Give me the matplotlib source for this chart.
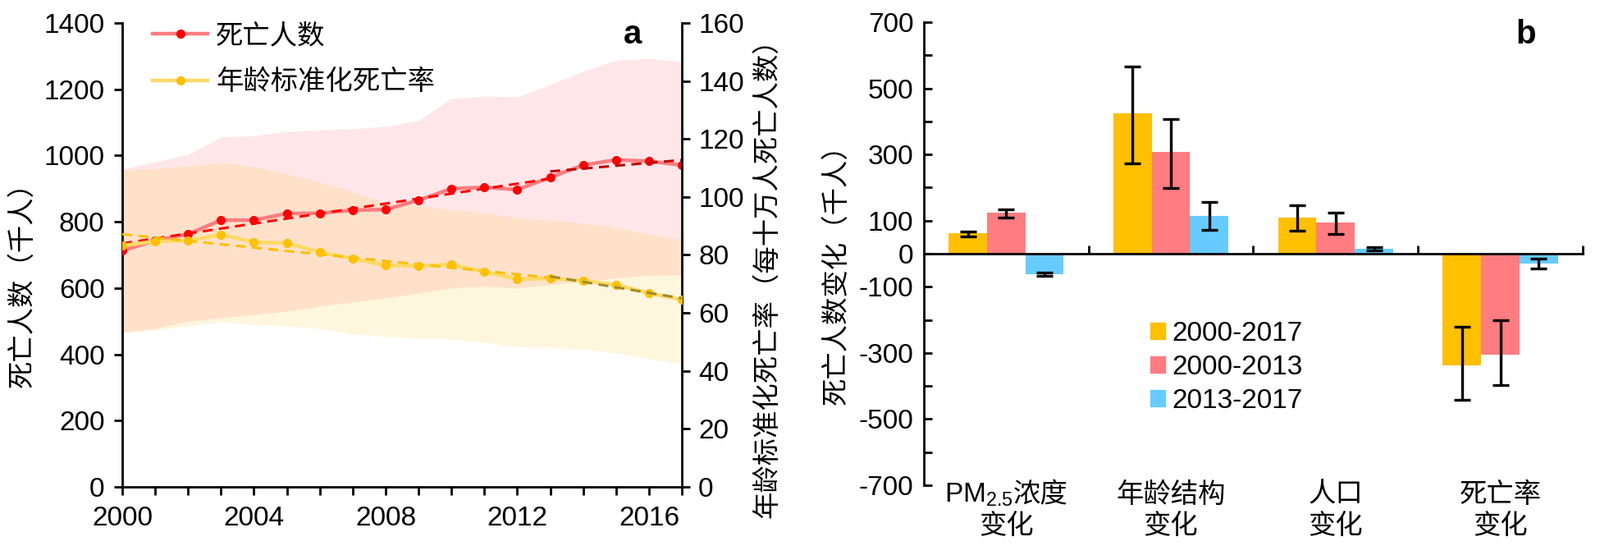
import numpy as np
import matplotlib
matplotlib.use('Agg')
import matplotlib.pyplot as plt
from matplotlib.patches import Patch
from matplotlib.ticker import FixedLocator, MultipleLocator

plt.rcParams['font.family'] = ['Liberation Sans', 'Noto Sans CJK SC']
plt.rcParams['mathtext.fontset'] = 'custom'
plt.rcParams['mathtext.rm'] = 'Liberation Sans'
plt.rcParams['mathtext.default'] = 'rm'
plt.rcParams['axes.unicode_minus'] = False

########## panel a data ##########
years = list(range(2000, 2018))
deaths = [713, 743, 763, 805, 805, 825, 826, 835, 837, 865, 900, 904, 897, 934, 971, 987, 983, 971]
deaths_hi = [959, 981, 1003, 1056, 1060, 1073, 1077, 1081, 1088, 1106, 1172, 1179, 1177, 1214, 1254, 1288, 1293, 1283]
deaths_lo = [466, 478, 500, 510, 520, 530, 545, 558, 570, 585, 600, 605, 600, 610, 620, 630, 638, 640]
asr = [83.2, 84.7, 84.9, 87.0, 84.4, 84.1, 81.0, 78.7, 76.4, 76.2, 76.7, 74.2, 71.6, 71.9, 71.1, 69.7, 66.8, 64.6]
asr_hi = [109.3, 109.8, 110.7, 111.9, 110.4, 108.0, 105.1, 101.9, 97.7, 97.0, 95.7, 94.5, 92.9, 92.0, 91.0, 89.5, 87.2, 85.3]
asr_lo = [53.3, 54.1, 55.5, 56.9, 56.0, 55.5, 54.6, 52.7, 51.8, 51.3, 51.0, 49.8, 48.3, 48.1, 47.5, 46.2, 44.2, 42.5]
split_year = 2013
legend_a = ['死亡人数', '年龄标准化死亡率']

########## panel b data ##########
categories = ['PM$_{2.5}$浓度\n变化', '年龄结构\n变化', '人口\n变化', '死亡率\n变化']
periods = ['2000-2017', '2000-2013', '2013-2017']
val_0017 = [61, 425, 109, -338]
val_0013 = [125, 309, 94, -306]
val_1317 = [-63, 115, 14, -30]
lo_0017 = [51, 272, 69, -441]
hi_0017 = [66, 566, 146, -222]
lo_0013 = [108, 199, 60, -396]
hi_0013 = [133, 408, 125, -202]
lo_1317 = [-68, 71, 9, -45]
hi_1317 = [-58, 157, 21, -16]

FS = 24


def trend(x, y):
    k, b = np.polyfit(x, y, 1)
    return np.polyval([k, b], x)


fig = plt.figure(figsize=(19.5, 6.65), dpi=100)

###### panel a ######
ax1 = fig.add_axes([0.0764, 0.1083, 0.3498, 0.8496])
ax2 = ax1.twinx()

ax1.fill_between(years, deaths_lo, deaths_hi, color='#FF8A94', alpha=0.2, lw=0, zorder=1)
# yellow band sits on the right axis scale but under the red line
ax1.fill_between(years, asr_lo, asr_hi, color='#FFC000', alpha=0.13, lw=0, zorder=1,
                 transform=ax2.transData)

l1, = ax1.plot(years, deaths, color='#FF7C80', lw=3.2, marker='o', ms=7,
               mfc='#FF0000', mec='#FF0000', zorder=3)
i = years.index(split_year)
ax1.plot(years[:i + 1], trend(years[:i + 1], deaths[:i + 1]), color='#FF0000',
         lw=2.2, dashes=(4, 2.5), zorder=4)
ax1.plot(years[i:], trend(years[i:], deaths[i:]), color='#C00000',
         lw=2.2, dashes=(4, 2.5), zorder=4)

l2, = ax2.plot(years, asr, color='#FFD966', lw=3.2, marker='o', ms=7,
               mfc='#FFC000', mec='#FFC000', zorder=3)
ax2.plot(years[:i + 1], trend(years[:i + 1], asr[:i + 1]), color='#FFC000',
         lw=2.2, dashes=(4, 2.5), zorder=4)
ax2.plot(years[i:], trend(years[i:], asr[i:]), color='#A08C30',
         lw=2.2, dashes=(4, 2.5), zorder=4)

ax1.set_xlim(2000, 2017)
ax1.set_ylim(0, 1400)
ax2.set_ylim(0, 160)
ax1.xaxis.set_major_locator(FixedLocator([2000, 2004, 2008, 2012, 2016]))
ax1.xaxis.set_minor_locator(MultipleLocator(1))
ax1.yaxis.set_major_locator(MultipleLocator(200))
ax2.yaxis.set_major_locator(MultipleLocator(20))

ax1.spines['top'].set_visible(False)
ax1.spines['right'].set_visible(False)
for s in ['top', 'left', 'bottom']:
    ax2.spines[s].set_visible(False)
for s in ['left', 'bottom']:
    ax1.spines[s].set_linewidth(2)
ax2.spines['right'].set_linewidth(2)

ax1.tick_params(axis='both', which='both', direction='out', length=7.5, width=2, labelsize=FS)
ax1.tick_params(axis='x', which='major', pad=9)
ax1.tick_params(axis='y', pad=8)
ax2.tick_params(axis='y', direction='out', length=7.5, width=2, labelsize=FS, pad=7)

ax1.set_ylabel('死亡人数（千人）', fontsize=FS)
ax1.yaxis.set_label_coords(-0.154, 0.45)
ax2.set_ylabel('年龄标准化死亡率（每十万人死亡人数）', fontsize=FS)
ax2.yaxis.set_label_coords(1.129, 0.465)

ax2.legend([l1, l2], legend_a, loc='upper left', bbox_to_anchor=(0.055, 0.998),
           frameon=False, fontsize=FS, handlelength=2, handletextpad=0.3,
           labelspacing=0.75, borderpad=0, borderaxespad=0)
ax2.text(0.912, 0.975, 'a', transform=ax1.transAxes, fontsize=29, fontweight='bold',
         ha='center', va='center')

###### panel b ######
ax3 = fig.add_axes([0.5774, 0.1113, 0.4118, 0.8481])
x = np.arange(len(categories)) + 0.5
w = 0.233
colors = ['#FFC000', '#FF7C80', '#66CCFF']
vals = [val_0017, val_0013, val_1317]
los = [lo_0017, lo_0013, lo_1317]
his = [hi_0017, hi_0013, hi_1317]
for j in range(3):
    v = np.array(vals[j])
    err = [v - np.array(los[j]), np.array(his[j]) - v]
    ax3.bar(x + (j - 1) * w, v, w, color=colors[j], yerr=err, zorder=2,
            error_kw=dict(ecolor='black', elinewidth=2.4, capsize=7.5, capthick=2.4))

ax3.set_xlim(0, 4)
ax3.set_ylim(-700, 700)
ax3.spines['top'].set_visible(False)
ax3.spines['right'].set_visible(False)
ax3.spines['bottom'].set_position(('data', 0))
ax3.spines['bottom'].set_linewidth(2)
ax3.spines['left'].set_linewidth(2)
ax3.spines['bottom'].set_zorder(3)
ax3.xaxis.set_major_locator(FixedLocator([1, 2, 3, 4]))
ax3.set_xticklabels([])
ax3.yaxis.set_major_locator(FixedLocator([-700, -500, -300, -100, 0, 100, 300, 500, 700]))
ax3.yaxis.set_minor_locator(FixedLocator([-600, -400, -200, 200, 400, 600]))
ax3.tick_params(axis='both', which='both', direction='in', length=7.5, width=2, labelsize=FS)
ax3.tick_params(axis='y', pad=9)

ax3.set_ylabel('死亡人数变化（千人）', fontsize=FS)
ax3.yaxis.set_label_coords(-0.112, 0.47)

# category names sit under the plot, two lines each
tr = ax3.get_xaxis_transform()
for xi, lab in zip(x, categories):
    first, second = lab.split('\n')
    if '$' in first:
        k = first.rindex('$') + 1
        ax3.annotate(first[:k], (xi, -0.037), xycoords=tr, xytext=(6, 0),
                     textcoords='offset points', ha='right', va='baseline', fontsize=FS)
        ax3.annotate(first[k:], (xi, -0.037), xycoords=tr, xytext=(6, 0),
                     textcoords='offset points', ha='left', va='baseline', fontsize=FS)
    else:
        ax3.text(xi, -0.037, first, transform=tr, ha='center', va='baseline', fontsize=FS)
    ax3.text(xi, -0.105, second, transform=tr, ha='center', va='baseline', fontsize=FS)

handles = [Patch(color=c) for c in colors]
ax3.legend(handles, periods, loc='upper left', bbox_to_anchor=(0.344, 0.355),
           frameon=False, fontsize=FS, handlelength=0.55, handleheight=0.55,
           handletextpad=0.25, labelspacing=0.3, borderpad=0, borderaxespad=0)
ax3.text(0.914, 0.973, 'b', transform=ax3.transAxes, fontsize=29, fontweight='bold',
         ha='center', va='center')

fig.savefig('out.png', dpi=100)
